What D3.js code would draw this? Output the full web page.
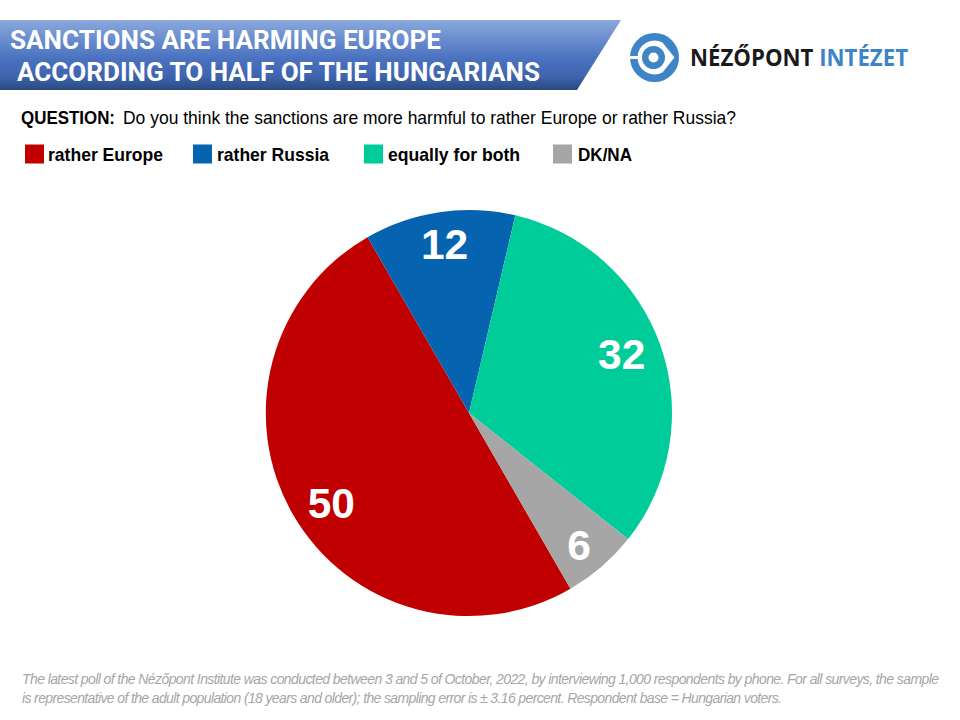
<!DOCTYPE html>
<html><head><meta charset="utf-8">
<script src="https://cdn.jsdelivr.net/npm/d3@7/dist/d3.min.js"></script>
<style>html,body{margin:0;padding:0;background:#fff}svg{display:block}</style></head>
<body><svg id="c" width="960" height="720"></svg>
<script>
const categories=["rather Europe","rather Russia","equally for both","DK/NA"];
const values=[50,12,32,6];
const colors=["#c00000","#0563b0","#00cc99","#a6a6a6"];
const legendX=[25,193,364,553];
const legendLabelX=[48,217,388,578];
const titleLines=["SANCTIONS ARE HARMING EUROPE"," ACCORDING TO HALF OF THE HUNGARIANS"];
const questionLabel="QUESTION:";
const questionText="Do you think the sanctions are more harmful to rather Europe or rather Russia?";
const footnote=["The latest poll of the Nézőpont Institute was conducted between 3 and 5 of October, 2022, by interviewing 1,000 respondents by phone. For all surveys, the sample","is representative of the adult population (18 years and older); the sampling error is ± 3.16 percent. Respondent base = Hungarian voters."];

const svg=d3.select("#c");
const defs=svg.append("defs");
const g=defs.append("linearGradient").attr("id","hdr").attr("x1",0).attr("y1",0).attr("x2",0).attr("y2",1);
[[0,"#8aa8dc"],[.55,"#4a72c0"],[.8,"#3f65ae"],[1,"#2a4a80"]].forEach(d=>g.append("stop").attr("offset",d[0]).attr("stop-color",d[1]));
svg.append("path").attr("d","M0,20H621L577,90H0Z").attr("fill","url(#hdr)");
svg.selectAll(".t").data(titleLines).join("text").attr("class","t")
 .attr("x",(d,i)=>i?17:10).attr("y",(d,i)=>i?81:49)
 .attr("fill","#fff").attr("font-family","Roboto, sans-serif").attr("font-weight",700).attr("font-size",25)
 .attr("textLength",(d,i)=>i?523:431).attr("lengthAdjust","spacingAndGlyphs")
 .text(d=>d.trim());

// Logo
const lg=svg.append("g").attr("transform","translate(654.5,57.5)");
lg.append("circle").attr("r",24.5).attr("fill","#3d85c6");
lg.append("path").attr("d","M-17,0A17,17 0 0 1 8,-15L20,0L8,15A17,17 0 0 1 -17,0Z").attr("fill","#fff");
lg.append("circle").attr("r",11.5).attr("cx",-1).attr("fill","#3d85c6");
lg.append("circle").attr("r",5).attr("cx",-1).attr("fill","#fff");
lg.append("rect").attr("x",-25).attr("y",-1.5).attr("width",10).attr("height",3).attr("fill","#fff");
svg.append("text").attr("x",690).attr("y",65.5).attr("font-family","'Open Sans',sans-serif").attr("font-weight",700).attr("font-size",22.5)
 .attr("textLength",218).attr("lengthAdjust","spacingAndGlyphs")
 .call(t=>{t.append("tspan").attr("fill","#1a1a1a").text("NÉZŐPONT ");t.append("tspan").attr("fill","#3d85c6").text("INTÉZET");});

svg.append("text").attr("x",21).attr("y",124).attr("font-family","'Liberation Sans',sans-serif").attr("font-weight",700).attr("font-size",18.5).attr("textLength",94).attr("lengthAdjust","spacingAndGlyphs").text(questionLabel);
svg.append("text").attr("x",123).attr("y",124).attr("font-family","'Liberation Sans',sans-serif").attr("font-size",18.5).attr("textLength",613).attr("lengthAdjust","spacingAndGlyphs").text(questionText);

const lgLen=[115,112,132,54];
svg.selectAll(".lr").data(categories).join("rect").attr("class","lr")
 .attr("x",(d,i)=>legendX[i]).attr("y",144.5).attr("width",19).attr("height",19).attr("fill",(d,i)=>colors[i]);
svg.selectAll(".lt").data(categories).join("text").attr("class","lt")
 .attr("x",(d,i)=>legendLabelX[i]).attr("y",161)
 .attr("font-family","'Liberation Sans',sans-serif").attr("font-weight",700).attr("font-size",18.5)
 .attr("textLength",(d,i)=>lgLen[i]).attr("lengthAdjust","spacingAndGlyphs").text(d=>d);

// Pie
const cx=469,cy=413,R=203;
const pie=d3.pie().sort(null).startAngle(150*Math.PI/180).endAngle(510*Math.PI/180);
const arc=d3.arc().innerRadius(0).outerRadius(R);
const labelArc=d3.arc().innerRadius(167).outerRadius(167);
const nudge=[[7,6],[0,-4],[-5,-4],[1,5]];
const pg=svg.append("g").attr("transform",`translate(${cx},${cy})`);
const arcs=pie(values);
pg.selectAll("path").data(arcs).join("path").attr("d",arc).attr("fill",(d,i)=>colors[i]);
pg.selectAll("text").data(arcs).join("text")
 .attr("transform",(d,i)=>{const c=labelArc.centroid(d);return `translate(${c[0]+nudge[i][0]},${c[1]+nudge[i][1]})`;})
 .attr("text-anchor","middle").attr("dy","0.36em")
 .attr("fill","#fff").attr("font-family","'Liberation Sans',sans-serif").attr("font-weight",700).attr("font-size",42.5)
 .text(d=>d.data);

svg.selectAll(".f").data(footnote).join("text").attr("class","f")
 .attr("x",22).attr("y",(d,i)=>684+i*18.5)
 .attr("fill","#a6a6a6").attr("font-family","'Liberation Sans',sans-serif").attr("font-style","italic").attr("font-size",14)
 .attr("textLength",(d,i)=>i?760:917).attr("lengthAdjust","spacing").text(d=>d);
</script></body></html>
